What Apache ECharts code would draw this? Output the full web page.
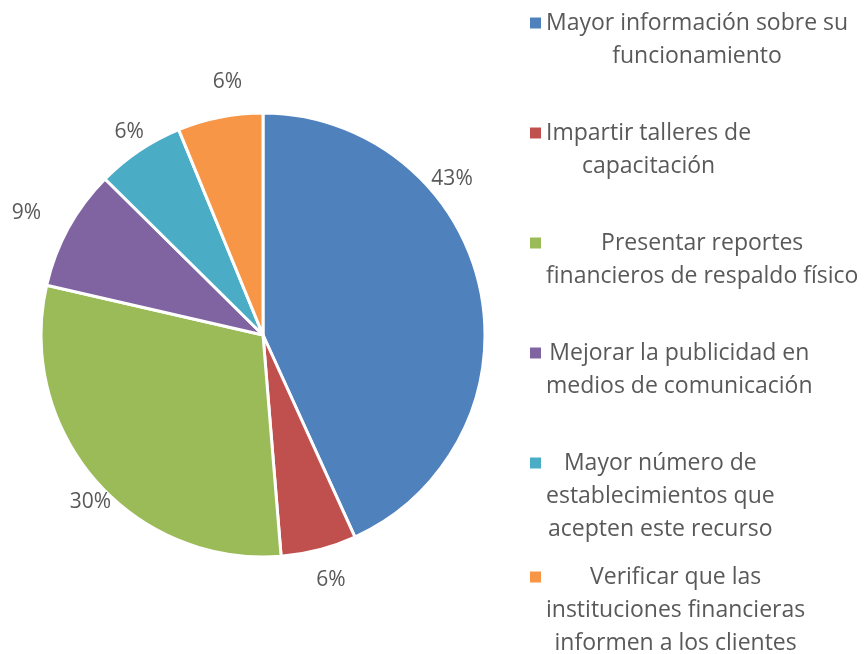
<!DOCTYPE html>
<html>
<head>
<meta charset="utf-8">
<title>Pie</title>
<script src="https://cdn.jsdelivr.net/npm/echarts@6/dist/echarts.min.js"></script>
<style>
    html, body{margin:0; padding:0; background:#fff;}
    #ChartMain{width:866px; height:654px;}
</style>
</head>
<body>
<div id="ChartMain"></div>
<script type="text/javascript">
    // data
    var categories = [
        'Mayor información sobre su funcionamiento',
        'Impartir talleres de capacitación',
        'Presentar reportes financieros de respaldo físico',
        'Mejorar la publicidad en medios de comunicación',
        'Mayor número de establecimientos que acepten este recurso',
        'Verificar que las instituciones financieras informen a los clientes'
    ];
    var values = [43.2, 5.5, 29.9, 8.8, 6.4, 6.2];
    // how the legend text wraps
    var legendLines = [
        ['Mayor información sobre su', 'funcionamiento'],
        ['Impartir talleres de', 'capacitación'],
        ['Presentar reportes', 'financieros de respaldo físico'],
        ['Mejorar la publicidad en', 'medios de comunicación'],
        ['Mayor número de', 'establecimientos que', 'acepten este recurso'],
        ['Verificar que las', 'instituciones financieras', 'informen a los clientes']
    ];
    var colors = ['#4F81BD', '#C0504D', '#9BBB59', '#8064A2', '#4BACC6', '#F79646'];

    var font = 'Open Sans';
    var lineH = 33;
    var iconY = [23, 133, 243, 353, 463, 577];
    var cx = 263, cy = 335, R = 222;
    // where the percent labels sit (best-fit placement in the source):
    // distance from the centre and angle clockwise from 12 o'clock
    var labelDist = [245, 254, 240, 266, 243, 255];
    var labelAngle = [50.5, 164.5, 226, 297.2, 326.6, 352];

    var legends = categories.map(function (name, i) {
        var n = legendLines[i].length;
        return {
            data: [name],
            orient: 'vertical',
            left: 530,
            top: iconY[i] - (2 * n - 1) * lineH / 2,
            padding: 0,
            icon: 'rect',
            itemWidth: 11,
            itemHeight: 11,
            itemGap: 0,
            itemStyle: {borderWidth: 0},
            selectedMode: false,
            formatter: function () {
                return legendLines[i].map(function (l) { return '{c|' + l + '}'; }).join('\n');
            },
            textStyle: {
                fontFamily: font,
                fontSize: 23,
                color: '#595959',
                lineHeight: lineH,
                padding: [(n - 1) * lineH, 0, 0, 0],
                rich: {
                    c: {align: 'center', fontFamily: font, fontSize: 23, color: '#595959', lineHeight: lineH}
                }
            }
        };
    });

    var myChart = echarts.init(document.getElementById('ChartMain'));
    var option = {
        color: colors,
        animation: false,
        legend: legends,
        series: [{
            type: 'pie',
            center: [cx, cy],
            radius: R,
            startAngle: 90,
            clockwise: true,
            avoidLabelOverlap: false,
            itemStyle: {borderColor: '#fff', borderWidth: 3},
            label: {
                show: true,
                position: 'outside',
                fontFamily: font,
                fontSize: 21,
                color: '#595959',
                formatter: function (p) { return Math.round(p.value) + '%'; }
            },
            labelLine: {show: false, length: 12, length2: 0},
            labelLayout: function (params) {
                var i = params.dataIndex;
                var a = labelAngle[i] * Math.PI / 180;
                return {
                    x: cx + labelDist[i] * Math.sin(a),
                    y: cy - labelDist[i] * Math.cos(a),
                    align: 'center',
                    verticalAlign: 'middle'
                };
            },
            emphasis: {disabled: true},
            data: categories.map(function (c, i) { return {name: c, value: values[i]}; })
        }]
    };
    myChart.setOption(option);
</script>
</body>
</html>
